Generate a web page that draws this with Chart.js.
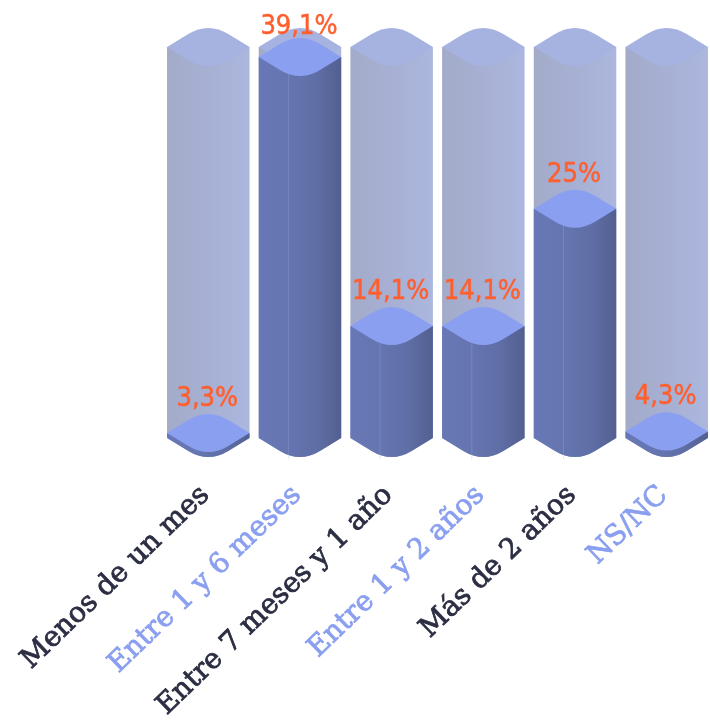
<!DOCTYPE html>
<html><head><meta charset="utf-8">
<style>html,body{margin:0;padding:0;background:#fff;overflow:hidden}#w{width:710px;height:722px;position:relative}</style>
<script src="https://cdn.jsdelivr.net/npm/chart.js@4"></script>
</head><body><div id="w"><canvas id="c" width="710" height="722"></canvas></div>
<script>
const categories=['Menos de un mes','Entre 1 y 6 meses','Entre 7 meses y 1 año','Entre 1 y 2 años','Más de 2 años','NS/NC'];
const values=[3.3,39.1,14.1,14.1,25,4.3];
const valueLabels=['3,3%','39,1%','14,1%','14,1%','25%','4,3%'];
const trackValues=[40.03,40.03,40.03,40.03,40.03,40.03];
const tickColors=['#2b2d42','#8a9ff0','#2b2d42','#8a9ff0','#2b2d42','#8a9ff0'];
const axisMin=3.69, axisMax=40.03;

function rhombus(ctx,l,r,c,s,dx){
  const cx=(l+r)/2,h=(r-l)/2*s,d=dx*s;
  ctx.moveTo(l,c);
  ctx.lineTo(cx-dx,c-h+d);
  ctx.quadraticCurveTo(cx,c-h,cx+dx,c-h+d);
  ctx.lineTo(r,c);
  ctx.lineTo(cx+dx,c+h-d);
  ctx.quadraticCurveTo(cx,c+h,cx-dx,c+h-d);
  ctx.closePath();
}
function body(ctx,l,r,top,base,s,dx){
  const cx=(l+r)/2,h=(r-l)/2*s,d=dx*s;
  ctx.moveTo(l,top);ctx.lineTo(r,top);ctx.lineTo(r,base);
  ctx.lineTo(cx+dx,base+h-d);
  ctx.quadraticCurveTo(cx,base+h,cx-dx,base+h-d);
  ctx.lineTo(l,base);ctx.closePath();
}
const SLOPE=0.61,ROUND=20,MIN_DEPTH=5;
const isoPlugin={id:'iso',afterDatasetsDraw(chart){
  const ctx=chart.ctx;
  const track=chart.getDatasetMeta(0).data, bars=chart.getDatasetMeta(1).data;
  ctx.save();
  track.forEach(el=>{
    const l=el.x-el.width/2,r=el.x+el.width/2;
    let g=ctx.createLinearGradient(l,0,r,0);
    g.addColorStop(0,'#a3abc9');g.addColorStop(0.5,'#a7b0d3');g.addColorStop(1,'#acb7df');
    ctx.fillStyle=g;ctx.beginPath();body(ctx,l,r,el.y,el.base,SLOPE,ROUND);ctx.fill();
    ctx.fillStyle='#a6b2e0';ctx.beginPath();rhombus(ctx,l,r,el.y,SLOPE,ROUND);ctx.fill();
  });
  bars.forEach((el,i)=>{
    const l=el.x-el.width/2,r=el.x+el.width/2,w=r-l;
    const top=Math.min(el.y,el.base-MIN_DEPTH);
    let g=ctx.createLinearGradient(l,0,r,0);
    g.addColorStop(0,'#6878b6');g.addColorStop(0.36,'#6575b0');g.addColorStop(0.7,'#5f6ea5');g.addColorStop(1,'#525f90');
    ctx.fillStyle=g;ctx.beginPath();body(ctx,l,r,top,el.base,SLOPE,ROUND);ctx.fill();
    const sx=l+w*0.36;
    ctx.strokeStyle='rgba(160,175,225,0.3)';ctx.lineWidth=1;
    ctx.beginPath();ctx.moveTo(sx,top+17);ctx.lineTo(sx,el.base+w/2*SLOPE-4);
    if(el.base-top>22)ctx.stroke();
    ctx.fillStyle='#8a9ff0';ctx.beginPath();rhombus(ctx,l,r,top,SLOPE,ROUND);ctx.fill();
    ctx.fillStyle='#ff5f2e';ctx.strokeStyle='#ff5f2e';ctx.lineWidth=0.5;
    ctx.font="27px 'DejaVu Sans Condensed','DejaVu Sans'";ctx.textAlign='center';ctx.textBaseline='alphabetic';
    const ty=Math.max(top-27,33.5);
    ctx.fillText(valueLabels[i],el.x-1,ty);
    ctx.strokeText(valueLabels[i],el.x-1,ty);
  });
  ctx.restore();
}};
new Chart(document.getElementById('c'),{
  type:'bar',
  data:{labels:categories,datasets:[
    {data:trackValues,base:axisMin,backgroundColor:'transparent',barThickness:82.5,clip:false},
    {data:values,base:axisMin,backgroundColor:'transparent',barThickness:82.5,clip:false}
  ]},
  options:{
    responsive:false,animation:false,
    layout:{autoPadding:false,padding:{left:208.3,right:43.3,top:47,bottom:0}},
    plugins:{legend:{display:false},tooltip:{enabled:false}},
    datasets:{bar:{grouped:false}},
    scales:{
      x:{offset:false,grid:{display:false},border:{display:false},
        afterFit(s){s.height=284;s.paddingLeft=0;s.paddingRight=0;},
        ticks:{autoSkip:false,minRotation:44,maxRotation:44,padding:33,labelOffset:-3,color:tickColors,
          textStrokeColor:tickColors,textStrokeWidth:0.8,
          font:{family:'DejaVu Serif',size:28,weight:'normal'}}},
      y:{display:false,min:axisMin,max:axisMax,grid:{display:false}}
    }
  },
  plugins:[isoPlugin]
});
</script></body></html>
